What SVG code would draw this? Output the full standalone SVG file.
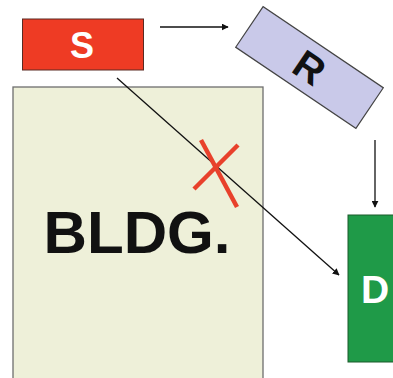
<svg xmlns="http://www.w3.org/2000/svg" width="393" height="378" viewBox="0 0 393 378">
<style>
.lbl{font-family:"Liberation Sans",Arial,sans-serif;font-weight:bold;text-anchor:middle}
.conn{stroke:#111;stroke-width:1.3;fill:none}
</style>
<defs>
<marker id="ah" viewBox="0 0 10 10" refX="9" refY="5" markerWidth="7" markerHeight="7" orient="auto" markerUnits="userSpaceOnUse">
<path d="M0,0 L10,5 L0,10 z" fill="#111"/>
</marker>
</defs>
<rect width="393" height="378" fill="#ffffff"/>
<g id="bldg">
<rect x="13" y="87" width="250" height="300" fill="#eef0d9" stroke="#6e6e6e" stroke-width="1.3"/>
<text class="lbl" x="137" y="253" font-size="60" textLength="187" lengthAdjust="spacingAndGlyphs" fill="#111">BLDG.</text>
</g>
<g id="S">
<rect x="22.5" y="19" width="121" height="51" fill="#ee3b24" stroke="#5a2a22" stroke-width="1"/>
<text class="lbl" x="82" y="58" font-size="36" fill="#ffffff">S</text>
</g>
<g id="R" transform="translate(309.5,67.5) rotate(34)">
<rect x="-72.5" y="-24.5" width="145" height="49" fill="#c9c9e9" stroke="#444" stroke-width="1.2"/>
<text class="lbl" x="0" y="14" font-size="40" fill="#111">R</text>
</g>
<g id="D">
<rect x="348" y="215" width="50" height="147" fill="#1f9a48" stroke="#1a5a2a" stroke-width="1"/>
<text class="lbl" x="375" y="303" font-size="39" fill="#ffffff">D</text>
</g>
<g id="connectors">
<line class="conn" x1="160" y1="27" x2="228" y2="27" marker-end="url(#ah)"/>
<line class="conn" x1="375" y1="140" x2="375" y2="207" marker-end="url(#ah)"/>
<line class="conn" x1="117" y1="78" x2="339" y2="275" marker-end="url(#ah)"/>
</g>
<g id="blocked" stroke="#e8412b" stroke-width="4.5" stroke-linecap="butt">
<line x1="201" y1="140" x2="237" y2="207"/>
<line x1="238" y1="145" x2="194" y2="189"/>
</g>
</svg>
